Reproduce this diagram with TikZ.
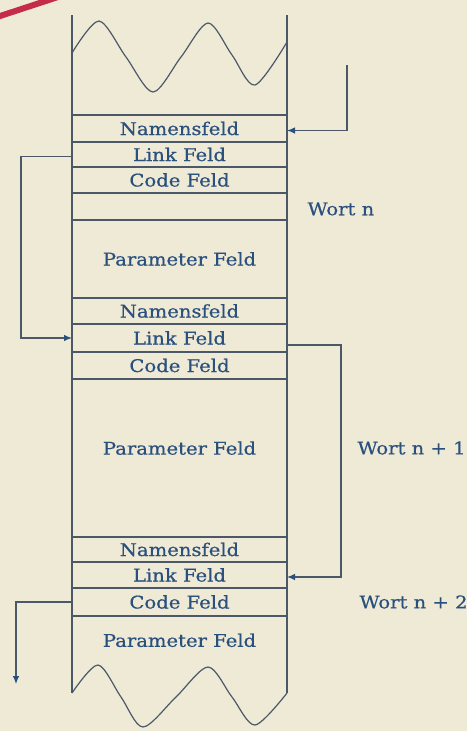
\documentclass[tikz,border=0pt]{standalone}
\usepackage{fontspec}
\newfontfamily\slab[FakeStretch=1.12,FakeBold=0.6]{DejaVu Serif}
\usetikzlibrary{arrows.meta,positioning}
\definecolor{dwpaper}{RGB}{239,234,214}
\definecolor{dwline}{RGB}{74,88,104}
\definecolor{dwtext}{RGB}{42,80,126}
\definecolor{dwred}{RGB}{196,44,72}

\begin{document}
\begin{tikzpicture}[x=1pt,y=-1pt,>={Latex[length=8pt,width=6.5pt,color=dwtext]},node distance=0pt,
    font=\slab\fontsize{17.5}{19}\selectfont,
    field/.style={draw=dwline,line width=1.1pt,minimum width=215pt,minimum height=#1,inner sep=0pt,outer sep=0pt,text=dwtext}]
    \fill[dwpaper] (0,0) rectangle (467,731);
    \useasboundingbox (0,0) rectangle (467,731);
    \draw[dwred,line width=6pt] (-3,17) -- (58,-3);
    % Wort n
    \node[field=27pt] (nf1) at (179.5,128.5) {Namensfeld};
    \node[field=25pt,below=of nf1] (lf1) {Link Feld};
    \node[field=26pt,below=of lf1] (cf1) {Code Feld};
    \node[field=27pt,below=of cf1] (ef1) {};
    \node[field=78pt,below=of ef1] (pf1) {Parameter Feld};
    % Wort n+1
    \node[field=26pt,below=of pf1] (nf2) {Namensfeld};
    \node[field=28pt,below=of nf2] (lf2) {Link Feld};
    \node[field=27pt,below=of lf2] (cf2) {Code Feld};
    \node[field=158pt,text depth=20pt,below=of cf2] (pf2) {Parameter Feld};
    % Wort n+2
    \node[field=25pt,below=of pf2] (nf3) {Namensfeld};
    \node[field=26pt,below=of nf3] (lf3) {Link Feld};
    \node[field=28pt,below=of lf3] (cf3) {Code Feld};
    \node[text=dwtext,below=14pt of cf3] (pf3) {Parameter Feld};
    % open ends of the column
    \draw[dwline,line width=1.1pt] (nf1.north west) -- ++(0,-100);
    \draw[dwline,line width=1.1pt] (nf1.north east) -- ++(0,-100);
    \draw[dwline,line width=1.1pt] (cf3.south west) -- ++(0,77);
    \draw[dwline,line width=1.1pt] (cf3.south east) -- ++(0,77);
    \draw[dwline,line width=1.2pt] plot[smooth] coordinates {(72,53) (99,21) (126,57) (153,92) (181,57) (208,23) (232,55) (255,85) (287,42)};
    \draw[dwline,line width=1.2pt] plot[smooth] coordinates {(72,693) (98,665) (121,697) (143,727) (176,697) (208,667) (232,697) (255,725) (287,693)};
    % labels
    \node[text=dwtext,anchor=west] (w1) at (304,209) {Wort n};
    \node[text=dwtext,anchor=west] (w2) at (354,448) {Wort n + 1};
    \node[text=dwtext,anchor=west] (w3) at (356,602) {Wort n + 2};
    % links
    \coordinate (in1) at (347,65);
    \coordinate (out3) at (16,684);
    \draw[->,dwline,line width=1.1pt] (in1) |- ([yshift=-2pt]nf1.east);
    \draw[->,dwline,line width=1.1pt] ([yshift=-2pt]lf1.west) -- ++(-51,0) |- (lf2.west);
    \draw[->,dwline,line width=1.1pt] ([yshift=-7pt]lf2.east) -- ++(54,0) |- ([yshift=-2pt]lf3.east);
    \draw[->,dwline,line width=1.1pt] (cf3.west) -| (out3);
\end{tikzpicture}
\end{document}
